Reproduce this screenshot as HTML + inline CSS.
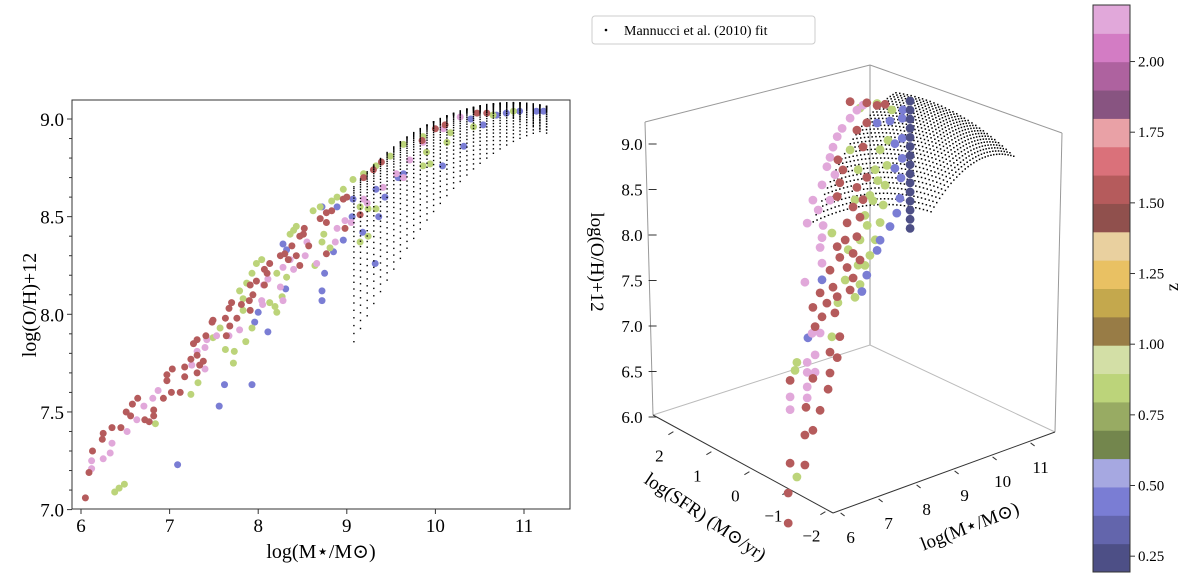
<!DOCTYPE html>
<html><head><meta charset="utf-8"><style>
html,body{margin:0;padding:0;background:#fff;}
svg{display:block;font-family:"Liberation Serif","DejaVu Serif",serif;}
</style></head><body>
<svg id="fig" width="1200" height="588" viewBox="0 0 1200 588" xmlns="http://www.w3.org/2000/svg">
<g id="left"></g>
<g id="right"></g>
<g id="cbar"></g>
<g id="legend">
<rect x="592" y="16" width="223" height="28" rx="3" fill="#fff" stroke="#ccc" stroke-width="1"/>
<circle cx="606" cy="30" r="1.3" fill="#000"/>
<text x="624" y="35" font-size="14" fill="#000">Mannucci et al. (2010) fit</text>
</g>
</svg>
<script>
// ---------- data ----------
const tab20b = ["#393b79","#5254a3","#6b6ecf","#9c9ede","#637939","#8ca252","#b5cf6b","#cedb9c","#8c6d31","#bd9e39","#e7ba52","#e7cb94","#843c39","#ad494a","#d6616b","#e7969c","#7b4173","#a55194","#ce6dbd","#de9ed6"];
const zMin = 0.194, zMax = 2.2;
const cbarTicks = [0.25,0.50,0.75,1.00,1.25,1.50,1.75,2.00];
const xTicksLeft = [6,7,8,9,10,11];
const yTicksLeft = [7.0,7.5,8.0,8.5,9.0];
const ohTicks3d = [6.0,6.5,7.0,7.5,8.0,8.5,9.0];
const sfrTicks3d = [2,1,0,-1,-2];
const massTicks3d = [6,7,8,9,10,11];
const fitCoef = [8.90,0.37,-0.14,-0.19,0.12,-0.054];
const fitMassRange = [9.08,11.3,0.075];
const fitSfrRange = [-1.5,1.6,0.1];

const seriesZ = {blue:0.45, green:0.85, brown:1.55, pink:2.15, navy:0.25};

const blueMass = [7.09,7.56,7.62,7.93,8.11,7.96,8.0,8.31,8.72,8.72,8.75,8.85,8.96,8.28,8.32,8.72,8.89,9.07,9.06,9.18,9.32,9.33,9.36,9.43,9.58,10.08,10.32,10.54,10.69,10.8,10.95,11.14,11.22,10.40,9.64];
const blueOH   = [7.23,7.53,7.64,7.64,7.91,7.96,8.01,8.13,8.12,8.07,8.21,8.32,8.38,8.36,8.33,8.55,8.55,8.59,8.50,8.42,8.26,8.64,8.50,8.60,8.70,8.76,8.86,8.97,9.02,9.03,9.04,9.04,9.04,9.00,8.72];
const greenMass = [6.38,6.43,6.49,6.84,7.24,7.32,7.72,7.73,7.63,7.86,7.93,7.57,7.49,7.83,7.83,7.79,7.87,7.93,7.98,8.04,8.21,8.19,8.13,8.27,8.32,8.21,8.36,8.40,8.43,8.64,8.62,8.70,8.72,8.74,8.83,8.89,8.96,9.07,9.15,9.24,9.19,9.33,9.49,9.64,9.86,9.86,9.94,9.90,10.13,10.17,10.43,10.65,10.88,9.15,9.24,9.33,8.81];
const greenOH   = [7.09,7.11,7.13,7.44,7.59,7.65,7.75,7.81,7.82,7.86,7.93,7.93,7.88,8.02,8.08,8.12,8.16,8.21,8.26,8.28,8.01,8.04,8.06,8.09,8.19,8.21,8.41,8.43,8.45,8.25,8.53,8.55,8.37,8.41,8.58,8.60,8.64,8.69,8.55,8.54,8.72,8.76,8.81,8.87,8.91,8.76,8.77,8.83,8.88,8.93,8.96,9.02,9.04,8.37,8.40,8.54,8.34];
const brownMass = [6.05,6.09,6.13,6.24,6.25,6.35,6.45,6.51,6.58,6.64,6.56,6.72,6.77,6.82,6.82,6.93,7.02,7.12,6.97,7.03,6.97,7.17,7.17,7.24,7.31,7.31,7.34,7.38,7.27,7.31,7.41,7.49,7.48,7.64,7.68,7.63,7.67,7.70,7.76,7.91,7.81,7.90,7.94,7.91,7.98,8.07,8.10,8.13,8.07,8.25,8.30,8.34,8.38,8.43,8.47,8.47,8.51,8.52,8.57,8.70,8.77,8.83,8.77,8.77,8.96,9.00,8.98,9.15,9.19,9.30,9.39,9.85,10.11,10.47,10.58,10.0];
const brownOH   = [7.06,7.19,7.30,7.36,7.39,7.42,7.42,7.50,7.54,7.57,7.48,7.46,7.45,7.48,7.51,7.57,7.60,7.60,7.66,7.72,7.69,7.68,7.73,7.77,7.79,7.70,7.74,7.76,7.85,7.87,7.89,7.97,7.96,7.89,7.94,7.98,8.03,8.06,7.98,8.02,8.05,8.07,8.10,8.15,8.17,8.15,8.21,8.26,8.23,8.30,8.31,8.28,8.35,8.30,8.25,8.40,8.41,8.44,8.35,8.49,8.52,8.53,8.47,8.31,8.59,8.60,8.44,8.51,8.70,8.74,8.78,8.89,8.97,9.03,9.03,8.95];
const pinkMass = [6.12,6.12,6.25,6.33,6.35,6.52,6.63,6.71,6.81,6.87,7.25,7.31,7.40,7.40,7.42,7.53,7.67,7.79,8.04,8.05,8.06,8.11,8.28,8.25,8.28,8.40,8.36,8.53,8.55,8.66,8.87,8.89,8.98,9.05,9.19,9.23,9.41,9.56,9.71,9.86,10.09,10.28,9.64];
const pinkOH   = [7.25,7.21,7.26,7.29,7.34,7.40,7.46,7.53,7.57,7.61,7.74,7.81,7.83,7.72,7.87,7.89,7.89,7.92,8.07,8.05,8.15,8.18,8.07,8.14,8.24,8.23,8.28,8.30,8.37,8.26,8.37,8.44,8.48,8.47,8.59,8.57,8.65,8.72,8.79,8.88,8.95,9.01,8.70];

// 3D data (log M, log SFR, 12+log O/H)
const brown3M  = [7.62,7.62,7.67,8.06,8.06,8.27,8.09,8.46,7.67,8.27,8.67,8.72,8.91,8.72,8.98,8.33,8.51,8.85,8.27,8.64,8.91,8.46,8.80,9.33,8.72,9.17,8.98,9.33,8.91,9.43,9.17,9.51,9.33,9.59,8.91,9.43,8.98,9.69,9.06,8.93,9.59,9.43,9.69,9.96,9.69,10.17,9.25,9.12,9.51,9.25];
const brown3S  = [0.8,0.8,0.8,0.8,0.8,0.8,0.8,0.8,0.8,0.8,0.8,0.8,0.8,0.8,0.8,0.8,0.8,0.8,0.8,0.8,0.8,0.8,0.8,0.8,0.8,0.8,0.8,0.8,0.8,0.8,0.8,0.8,0.8,0.8,0.8,0.8,0.8,0.8,0.8,0.8,0.8,0.8,0.8,0.8,0.8,0.8,0.8,0.8,0.8,0.8];
const brown3OH = [4.95,5.28,5.60,5.52,5.85,5.87,6.15,6.06,6.51,6.44,6.26,6.43,6.57,6.66,6.79,7.00,7.08,7.07,7.22,7.21,7.24,7.35,7.36,7.38,7.56,7.52,7.66,7.65,7.79,7.82,8.01,8.02,8.16,8.20,8.34,8.36,8.48,8.43,8.61,8.74,8.78,8.99,9.03,9.18,9.25,9.16,9.33,7.83,7.55,7.26];
const pink3M  = [8.47,8.47,8.92,8.92,8.92,9.13,8.92,9.13,9.05,9.26,8.86,9.31,9.26,9.31,8.92,9.34,9.07,9.31,9.44,9.52,9.60,9.71,9.84,10.05,10.23,10.39,9.65,9.21,9.52];
const pink3S  = [1.6,1.6,1.6,1.6,1.6,1.6,1.6,1.6,1.6,1.6,1.6,1.6,1.6,1.6,1.6,1.6,1.6,1.6,1.6,1.6,1.6,1.6,1.6,1.6,1.6,1.6,1.6,1.6,1.6];
const pink3OH = [5.89,6.03,5.95,6.07,6.23,6.20,6.34,6.39,6.64,6.61,7.23,7.37,7.55,7.65,7.87,7.78,8.10,8.23,8.41,8.50,8.60,8.70,8.77,8.85,8.91,8.94,8.29,7.97,8.03];
const green3M  = [7.45,7.40,7.45,8.37,8.98,9.11,9.24,9.37,9.51,9.64,9.72,9.77,9.82,9.85,9.11,9.24,9.37,9.51,8.98,9.06,8.85,9.11,9.56,9.95,8.80,9.06,8.72,8.53,9.64,8.37,9.30,9.45,9.58];
const green3S  = [0.4,0.4,0.4,0.4,0.4,0.4,0.4,0.4,0.4,0.4,0.4,0.4,0.4,0.4,0.4,0.4,0.4,0.4,0.4,0.4,0.4,0.4,0.4,0.4,0.4,0.4,0.4,0.4,0.4,0.4,0.4,0.4,0.4];
const green3OH = [5.57,6.75,6.83,6.97,7.31,7.43,7.62,7.71,7.86,8.03,8.21,8.42,8.63,8.90,7.92,8.17,8.37,8.63,8.38,8.70,8.95,9.37,9.35,9.22,7.86,7.65,7.54,7.32,8.83,8.11,8.05,8.30,8.50];
const blue3M  = [9.62,9.62,9.62,9.59,9.56,9.48,9.30,9.04,8.96,8.69,8.56,8.96,9.30,7.14,7.51,9.43,9.43,9.64];
const blue3S  = [-0.2,-0.2,-0.2,-0.2,-0.2,-0.2,-0.2,-0.2,-0.2,-0.2,-0.2,-0.2,-0.2,-0.2,-0.2,-0.2,-0.2,-0.2];
const blue3OH = [9.31,9.09,8.87,8.66,8.44,8.29,8.17,8.06,7.96,7.73,7.57,9.36,9.33,7.28,7.86,8.79,9.06,9.40];
const navy3M  = [9.53,9.53,9.53,9.53,9.53,9.53,9.53,9.53,9.53,9.53,9.53,9.53,9.53,9.53,9.53];
const navy3S  = [-0.5,-0.5,-0.5,-0.5,-0.5,-0.5,-0.5,-0.5,-0.5,-0.5,-0.5,-0.5,-0.5,-0.5,-0.5];
const navy3OH = [8.18,8.28,8.38,8.48,8.58,8.68,8.78,8.88,8.98,9.08,9.18,9.28,9.38,9.48,9.58];

// ---------- helpers ----------
const NS = "http://www.w3.org/2000/svg";
function mk(tag, attrs, parent){const e=document.createElementNS(NS,tag);for(const k in attrs)e.setAttribute(k,attrs[k]);parent.appendChild(e);return e;}
function blend(hex,a){const r=parseInt(hex.substr(1,2),16),g=parseInt(hex.substr(3,2),16),b=parseInt(hex.substr(5,2),16);const f=c=>Math.round(c*a+255*(1-a));return `rgb(${f(r)},${f(g)},${f(b)})`;}
function zColor(z){let k=Math.floor((z-zMin)/((zMax-zMin)/20));k=Math.max(0,Math.min(19,k));return blend(tab20b[k],0.9);}
function fitOH(M,S){const m=M-10;return fitCoef[0]+fitCoef[1]*m+fitCoef[2]*S+fitCoef[3]*m*m+fitCoef[4]*m*S+fitCoef[5]*S*S;}
function rangeArr(r){const a=[];for(let v=r[0];v<=r[1]+1e-9;v+=r[2])a.push(v);return a;}
const fitMass = rangeArr(fitMassRange), fitSfr = rangeArr(fitSfrRange);

// ---------- left panel ----------
const L = document.getElementById('left');
const xL = m => 81 + (m-6)*88.6;
const yL = o => 119 + (9-o)*195.3;
const leftSeries = [
  ['blue', blueMass, blueOH],
  ['green', greenMass, greenOH],
  ['pink', pinkMass, pinkOH],
  ['brown', brownMass, brownOH]
];
leftSeries.forEach(([name,ms,os])=>{
  const g = mk('g',{},L);
  
  
  ms.forEach((m,i)=>{
    const c = mk('circle',{cx:xL(m).toFixed(1),cy:yL(os[i]).toFixed(1),r:3.5,fill:zColor(seriesZ[name])},g);
    
    
  });
});
const fitL = mk('g',{},L);


fitMass.forEach(M=>fitSfr.forEach(S=>{
  const d = mk('rect',{x:(xL(M)-0.7).toFixed(1),y:(yL(fitOH(M,S))-0.7).toFixed(1),width:1.4,height:1.4,fill:'#000'},fitL);
  
  
}));
const frame = mk('rect',{x:72,y:100,width:498,height:409,fill:'none',stroke:'#333','stroke-width':1},L);


xTicksLeft.forEach(t=>{
  mk('line',{x1:xL(t),x2:xL(t),y1:509,y2:514,stroke:'#333'},L);
  const tx = mk('text',{x:xL(t),y:532,'font-size':19,'text-anchor':'middle'},L);
  tx.textContent = t;
  
  
});
for(let v=7.0; v<=9.05; v+=0.1){
  const major = Math.abs(v*2-Math.round(v*2))<1e-6;
  mk('line',{x1:72-(major?5:3),x2:72,y1:yL(v),y2:yL(v),stroke:'#333'},L);
}
yTicksLeft.forEach(t=>{
  const tx = mk('text',{x:64,y:yL(t)+7,'font-size':19,'text-anchor':'end'},L);
  tx.textContent = t.toFixed(1);
  
  
});
const xlab = mk('text',{x:321,y:558,'font-size':20,'text-anchor':'middle'},L);
xlab.textContent = 'log(M\u22C6/M\u2299)';


const ylab = mk('text',{x:0,y:0,'font-size':20,'text-anchor':'middle',transform:'translate(36,305) rotate(-90)'},L);
ylab.textContent = 'log(O/H)+12';



// ---------- 3D panel ----------
const R = document.getElementById('right');
function P(m,s,o){return [833+38*(m-5.8)-38*(s+2.2), 513-14*(m-5.8)-20*(s+2.2)-91*(o-6)];}
const box = [
  [645,122,653,415,'#999'],[870,65,870,345,'#999'],[1062,133,1055,432,'#999'],
  [645,122,870,65,'#999'],[870,65,1062,133,'#999'],
  [653,415,870,345,'#bbb'],[870,345,1055,432,'#bbb'],
  [653,415,833,513,'#333'],[833,513,1055,432,'#333']
];
box.forEach(b=>{
  const l = mk('line',{x1:b[0],y1:b[1],x2:b[2],y2:b[3],stroke:b[4],'stroke-width':1},R);
  
  
});
ohTicks3d.forEach(t=>{
  const p = P(5.8,2.6,t);
  mk('line',{x1:p[0]-2,x2:p[0]+6,y1:p[1],y2:p[1],stroke:'#333'},R);
  const tx = mk('text',{x:p[0]-8,y:p[1]+6,'font-size':17,'text-anchor':'end'},R);
  tx.textContent = t.toFixed(1);
  
  
});
sfrTicks3d.forEach(t=>{
  const p = P(5.8,t,5.97);
  mk('line',{x1:p[0],x2:p[0]-5,y1:p[1],y2:p[1]+3,stroke:'#333'},R);
  const tx = mk('text',{x:p[0]-14,y:p[1]+30,'font-size':17,'text-anchor':'middle'},R);
  tx.textContent = t<0 ? '\u2212'+(-t) : t;
  
  
});
massTicks3d.forEach(t=>{
  const p = P(t,-2.2,5.97);
  mk('line',{x1:p[0],x2:p[0]+4,y1:p[1],y2:p[1]+3,stroke:'#333'},R);
  const tx = mk('text',{x:p[0]+10,y:p[1]+30,'font-size':17,'text-anchor':'middle'},R);
  tx.textContent = t;
  
  
});
const fitR = mk('g',{},R);


fitMass.forEach(M=>fitSfr.forEach(S=>{
  const p = P(M,S,fitOH(M,S));
  const d = mk('rect',{x:(p[0]-0.7).toFixed(1),y:(p[1]-0.7).toFixed(1),width:1.5,height:1.5,fill:'#000'},fitR);
  
  
}));
const series3 = [
  ['green', green3M, green3S, green3OH],
  ['blue', blue3M, blue3S, blue3OH],
  ['navy', navy3M, navy3S, navy3OH],
  ['pink', pink3M, pink3S, pink3OH],
  ['brown', brown3M, brown3S, brown3OH]
];
series3.forEach(([name,ms,ss,os])=>{
  const g = mk('g',{},R);
  
  
  ms.forEach((m,i)=>{
    const p = P(m,ss[i],os[i]);
    const c = mk('circle',{cx:p[0].toFixed(1),cy:p[1].toFixed(1),r:4.4,fill:zColor(seriesZ[name])},g);
    
    
  });
});
const zl = mk('text',{x:0,y:0,'font-size':19,'text-anchor':'middle',transform:'translate(591,262) rotate(90)'},R);
zl.textContent = 'log(O/H)+12';


const sl = mk('text',{x:0,y:0,'font-size':19,'text-anchor':'middle',transform:'translate(702,522) rotate(34)'},R);
sl.textContent = 'log(SFR) (M\u2299/yr)';


const ml = mk('text',{x:0,y:0,'font-size':19,'text-anchor':'middle',transform:'translate(972,532) rotate(-21)'},R);
ml.textContent = 'log(M\u22C6/M\u2299)';



// ---------- colorbar ----------
const CB = document.getElementById('cbar');
const cbTop = 5, cbBot = 572, cbX = 1093, cbW = 37;
const yC = z => cbBot - (z-zMin)/(zMax-zMin)*(cbBot-cbTop);
tab20b.forEach((c,k)=>{
  const z0 = zMin + k*(zMax-zMin)/20, z1 = zMin + (k+1)*(zMax-zMin)/20;
  const r = mk('rect',{x:cbX,y:yC(z1).toFixed(2),width:cbW,height:(yC(z0)-yC(z1)+0.5).toFixed(2),fill:blend(c,0.9)},CB);
  
  
});
mk('rect',{x:cbX,y:cbTop,width:cbW,height:cbBot-cbTop,fill:'none',stroke:'#333'},CB);
cbarTicks.forEach(t=>{
  mk('line',{x1:cbX+cbW,x2:cbX+cbW+5,y1:yC(t),y2:yC(t),stroke:'#333'},CB);
  const tx = mk('text',{x:cbX+cbW+8,y:yC(t)+5,'font-size':15},CB);
  tx.textContent = t.toFixed(2);
  
  
});
const zt = mk('text',{x:0,y:0,'font-size':18,'text-anchor':'middle',transform:'translate(1178,287) rotate(-90)'},CB);
zt.textContent = 'z';


</script>
</body></html>
